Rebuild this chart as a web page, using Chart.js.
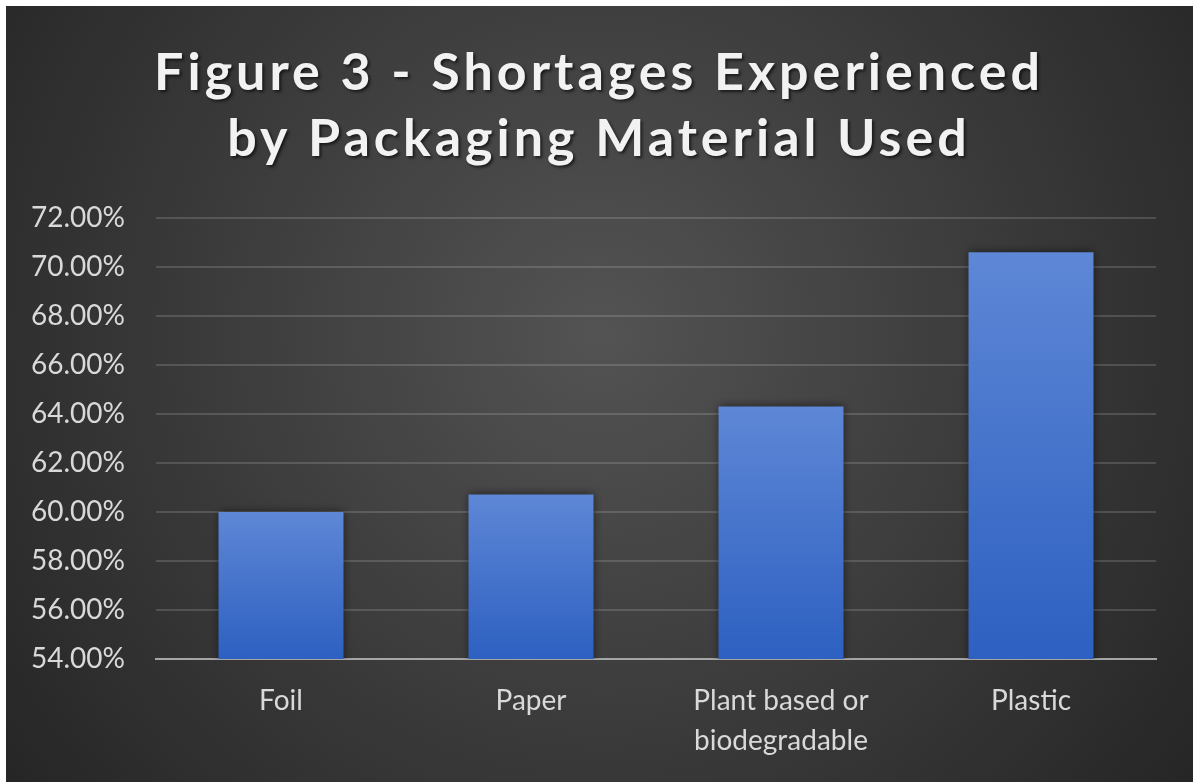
<!DOCTYPE html>
<html>
<head>
<meta charset="utf-8">
<script src="https://cdn.jsdelivr.net/npm/chart.js@4.4.1/dist/chart.umd.min.js"></script>
<style>
  html, body { margin: 0; padding: 0; background: #ffffff; }
  #wrap { position: absolute; left: 6px; top: 6px; width: 1187px; height: 776px; }
</style>
</head>
<body>
<div id="wrap"><canvas id="c"></canvas></div>
<script>
// Packaging materials and the share of respondents reporting shortages (%)
const materials = ['Foil', 'Paper', ['Plant based or', 'biodegradable'], 'Plastic'];
const shortageShare = [60.00, 60.72, 64.31, 70.61];

// Value axis range and tick step (%)
const yMin = 54;
const yMax = 72;
const yStep = 2;

const titleLines = ['Figure 3 - Shortages Experienced', 'by Packaging Material Used'];

const FONT = 'Lato, Calibri, "Open Sans", sans-serif';

// Dark radial backdrop behind the whole chart
const backdrop = {
  id: 'backdrop',
  beforeDraw(chart) {
    const { ctx, width, height } = chart;
    const g = ctx.createRadialGradient(width * 0.5, height * 0.42, 0, width * 0.5, height * 0.42, width * 0.62);
    g.addColorStop(0, '#535353');
    g.addColorStop(1, '#262626');
    ctx.save();
    ctx.fillStyle = g;
    ctx.fillRect(0, 0, width, height);
    ctx.restore();
  }
};

// Soft shadow under the bars
const barShadow = {
  id: 'barShadow',
  beforeDatasetsDraw(chart) {
    const ctx = chart.ctx;
    ctx.save();
    ctx.shadowColor = 'rgba(0,0,0,0.55)';
    ctx.shadowBlur = 9;
    ctx.shadowOffsetX = 0;
    ctx.shadowOffsetY = 0;
  },
  afterDatasetsDraw(chart) {
    chart.ctx.restore();
  }
};

// Spaced, shadowed title lettering, centred on the full canvas width
const titleStyle = {
  id: 'titleStyle',
  beforeDraw(chart) {
    const tb = chart.titleBlock;
    if (!tb || tb._styled) return;
    const orig = tb.draw;
    tb.draw = function () {
      const ctx = this.ctx;
      ctx.save();
      ctx.translate(18, 0);
      ctx.letterSpacing = '4px';
      ctx.shadowColor = 'rgba(0,0,0,0.6)';
      ctx.shadowBlur = 3;
      ctx.shadowOffsetX = 2;
      ctx.shadowOffsetY = 2;
      orig.apply(this, arguments);
      ctx.restore();
    };
    tb._styled = true;
  }
};

function barFill(context) {
  const chart = context.chart;
  const y = chart.scales && chart.scales.y;
  if (!chart.chartArea || !y || !context.parsed) return '#4472c4';
  const top = y.getPixelForValue(context.parsed.y);
  const bottom = y.getPixelForValue(yMin);
  const g = chart.ctx.createLinearGradient(0, top, 0, bottom);
  g.addColorStop(0, '#5e87d6');
  g.addColorStop(1, '#2d60c1');
  return g;
}

new Chart(document.getElementById('c'), {
  type: 'bar',
  data: {
    labels: materials,
    datasets: [{
      data: shortageShare,
      backgroundColor: barFill,
      borderWidth: 0,
      barPercentage: 0.5,
      categoryPercentage: 1.0
    }]
  },
  options: {
    responsive: true,
    maintainAspectRatio: false,
    animation: false,
    devicePixelRatio: 1,
    layout: { padding: { left: 0, right: 37, top: 0, bottom: 0 } },
    plugins: {
      legend: { display: false },
      tooltip: { enabled: false },
      title: {
        display: true,
        text: titleLines,
        color: '#f2f2f2',
        font: { family: FONT, size: 52, weight: 'bold', lineHeight: 1.27 },
        padding: { top: 34, bottom: 46 }
      }
    },
    scales: {
      x: {
        grid: { display: false, drawTicks: false },
        border: { display: true, color: '#a6a6a6', width: 2 },
        ticks: {
          color: '#d9d9d9',
          font: { family: FONT, size: 28, lineHeight: 1.42 },
          padding: 22,
          maxRotation: 0,
          autoSkip: false
        },
        afterFit(scale) { scale.height = 123; }
      },
      y: {
        min: yMin,
        max: yMax,
        grid: { color: 'rgba(255,255,255,0.15)', lineWidth: 2, drawTicks: false },
        border: { display: false },
        ticks: {
          stepSize: yStep,
          color: '#d9d9d9',
          font: { family: FONT, size: 28 },
          padding: 31,
          callback: (v) => v.toFixed(2) + '%'
        },
        afterFit(scale) { scale.width = 150; }
      }
    }
  },
  plugins: [backdrop, barShadow, titleStyle]
});
</script>
</body>
</html>
